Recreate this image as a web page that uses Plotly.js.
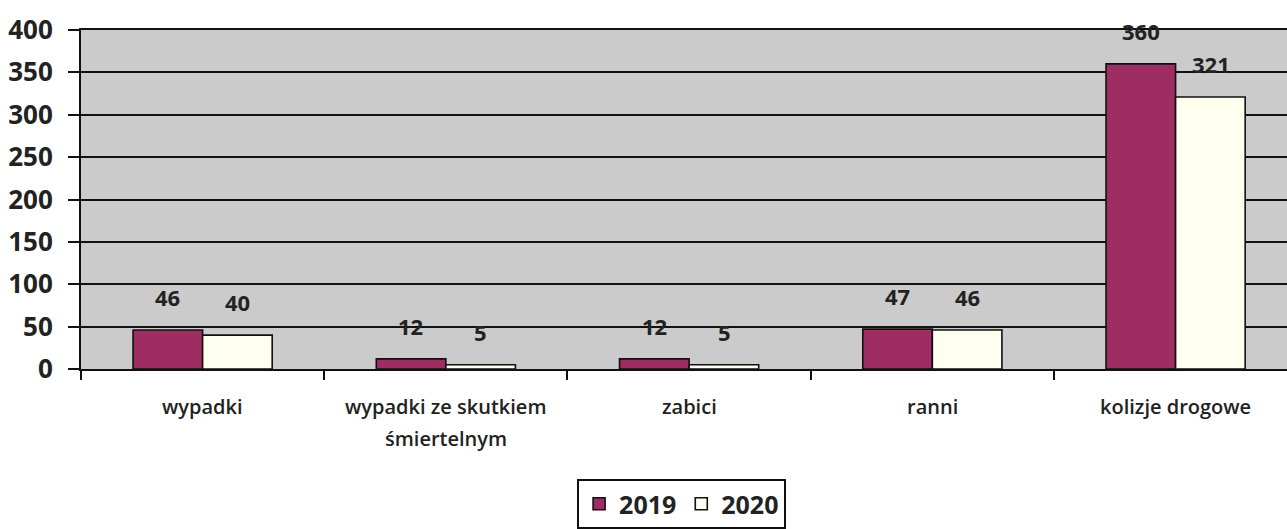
<!DOCTYPE html>
<html>
<head>
<meta charset="utf-8">
<script src="https://cdn.plot.ly/plotly-3.0.1.min.js"></script>
<style>html,body{margin:0;padding:0;background:#fff;}#chart{width:1287px;height:529px;}</style>
</head>
<body>
<div id="chart"></div>
<script>
const categories = ["wypadki", "wypadki ze skutkiem\nśmiertelnym", "zabici", "ranni", "kolizje drogowe"];
const seriesNames = ["2019", "2020"];
const values2019 = [46, 12, 12, 47, 360];
const values2020 = [40, 5, 5, 46, 321];
const yTicks = [0, 50, 100, 150, 200, 250, 300, 350, 400];

const FONT = "'Open Sans', 'DejaVu Sans', sans-serif";
const idx = categories.map((c, i) => i);

const traces = [
  {type: 'bar', name: seriesNames[0], x: idx, y: values2019,
   marker: {color: '#9e2d62', line: {color: '#111', width: 1.6}}},
  {type: 'bar', name: seriesNames[1], x: idx, y: values2020,
   marker: {color: '#fffff0', line: {color: '#111', width: 1.6}}}
];

const annotations = [];
const series = [values2019, values2020];
series.forEach((vals, s) => {
  vals.forEach((v, i) => {
    annotations.push({
      x: i, y: v, xref: 'x', yref: 'y', text: String(v), showarrow: false,
      xshift: s === 0 ? -35 : 35, yshift: 33, yanchor: 'middle',
      font: {family: FONT, size: 22, color: '#222', weight: 'bold'}
    });
  });
});
categories.forEach((c, i) => {
  c.split('\n').forEach((line, k) => {
    annotations.push({
      x: i, y: 0, xref: 'x', yref: 'paper', text: line, showarrow: false,
      yshift: -37 - k * 32, yanchor: 'middle',
      font: {family: FONT, size: 20, color: '#222', weight: 600}
    });
  });
});

const layout = {
  width: 1287, height: 529,
  margin: {l: 81, r: 0, t: 30, b: 157},
  paper_bgcolor: '#ffffff',
  plot_bgcolor: '#cbcbcb',
  barmode: 'group', bargap: 0.428, bargroupgap: 0,
  showlegend: true,
  legend: {
    orientation: 'h', x: 0.498, xanchor: 'center', y: -0.325, yanchor: 'top',
    bordercolor: '#111', borderwidth: 2, bgcolor: '#ffffff',
    font: {family: FONT, size: 25, color: '#222', weight: 'bold'},
    traceorder: 'normal'
  },
  xaxis: {
    type: 'linear', range: [-0.5, 4.458],
    tickmode: 'array', tickvals: [-0.5, 0.5, 1.5, 2.5, 3.5],
    showticklabels: false, ticks: 'outside', ticklen: 9, tickwidth: 2, tickcolor: '#111',
    showgrid: false, zeroline: false,
    showline: true, linecolor: '#111', linewidth: 2, mirror: true
  },
  yaxis: {
    range: [0, 400], tickmode: 'array', tickvals: yTicks,
    ticks: 'outside', ticklen: 11, tickwidth: 2, tickcolor: '#111',
    ticklabelstandoff: 10,
    showgrid: true, gridcolor: '#111', gridwidth: 2, zeroline: false,
    showline: true, linecolor: '#111', linewidth: 2,
    tickfont: {family: FONT, size: 26, color: '#222', weight: 'bold'}
  },
  annotations: annotations
};

Plotly.newPlot('chart', traces, layout, {displayModeBar: false, staticPlot: true});
</script>
</body>
</html>
